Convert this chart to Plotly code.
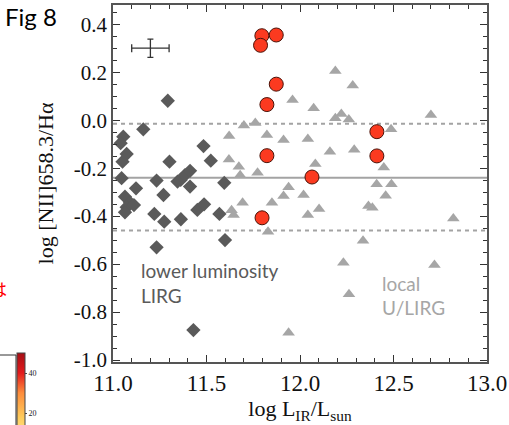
import plotly.graph_objects as go

# ---------------- data ----------------
# lower luminosity LIRGs (dark diamonds)
diamond_x = [11.293, 11.162, 11.055, 11.041, 11.073, 11.051, 11.302, 11.046, 11.233, 11.123,
             11.270, 11.064, 11.091, 11.073, 11.112, 11.064, 11.221, 11.274, 11.233,
             11.345, 11.362, 11.385, 11.412, 11.412, 11.363, 11.451, 11.487, 11.484,
             11.523, 11.595, 11.569, 11.599, 11.430]
diamond_y = [0.081, -0.038, -0.069, -0.096, -0.141, -0.173, -0.173, -0.242, -0.252, -0.284,
             -0.312, -0.319, -0.344, -0.363, -0.354, -0.384, -0.391, -0.423, -0.530,
             -0.256, -0.249, -0.229, -0.211, -0.277, -0.413, -0.374, -0.351, -0.108,
             -0.169, -0.261, -0.391, -0.500, -0.875]

# local U/LIRGs (light triangles)
triangle_x = [12.189, 12.282, 11.960, 12.073, 12.189, 12.221, 12.261, 12.700, 11.700, 11.761,
              12.487, 11.621, 11.823, 11.912, 12.042, 12.160, 12.290, 11.620, 12.082, 11.673,
              11.680, 11.773, 11.939, 11.912, 12.019, 11.693, 11.850, 11.634, 11.645, 12.102,
              12.042, 11.829, 12.337, 12.232, 12.719, 12.820, 12.448, 12.410, 12.489, 12.458,
              12.366, 12.387, 12.262, 11.939]
triangle_y = [0.205, 0.144, 0.084, 0.050, 0.008, 0.026, 0.003, 0.022, -0.022, -0.012,
              -0.038, -0.066, -0.062, -0.083, -0.078, -0.132, -0.123, -0.164, -0.183, -0.194,
              -0.230, -0.219, -0.280, -0.316, -0.312, -0.344, -0.344, -0.376, -0.395, -0.370,
              -0.395, -0.465, -0.503, -0.594, -0.604, -0.410, -0.197, -0.267, -0.267, -0.315,
              -0.358, -0.365, -0.726, -0.886]

# this work (red circles)
circle_x = [11.796, 11.873, 11.789, 11.873, 11.823, 12.411, 11.823, 12.411, 12.064, 11.797]
circle_y = [0.352, 0.355, 0.312, 0.150, 0.065, -0.048, -0.148, -0.149, -0.237, -0.407]

# typical error bar
err_x = [11.20]
err_y = [0.30]
err_dx = [0.10]
err_dy = [0.038]

# reference levels
mean_level = -0.24
scatter_levels = [-0.015, -0.46]

# axis ticks
x_tickvals = [11.0, 11.5, 12.0, 12.5, 13.0]
x_ticktext = ["11.0", "11.5", "12.0", "12.5", "13.0"]
y_tickvals = [-1.0, -0.8, -0.6, -0.4, -0.2, 0.0, 0.2, 0.4]
y_ticktext = ["-1.0", "-0.8", "-0.6", "-0.4", "-0.2", "0.0", "0.2", "0.4"]

# stray colour-bar fragment from the slide
cbar_values = [0, 50]
cbar_tickvals = [20, 40]

# ---------------- figure ----------------
SERIF = "Liberation Serif"
SANS = "Lato"

fig = go.Figure()

fig.add_trace(go.Scatter(
    x=triangle_x, y=triangle_y, mode="markers",
    marker=dict(symbol="triangle-up", size=11, color="#a6a6a6", line=dict(width=0)),
    showlegend=False, hoverinfo="skip"))

fig.add_trace(go.Scatter(
    x=diamond_x, y=diamond_y, mode="markers",
    marker=dict(symbol="diamond", size=11, color="#5a5a5a", line=dict(width=0)),
    showlegend=False, hoverinfo="skip"))

fig.add_trace(go.Scatter(
    x=circle_x, y=circle_y, mode="markers",
    marker=dict(symbol="circle", size=14, color="#fb3a20", line=dict(width=1, color="#4a1208")),
    showlegend=False, hoverinfo="skip"))

fig.add_trace(go.Scatter(
    x=err_x, y=err_y, mode="markers",
    marker=dict(size=1, color="rgba(0,0,0,0)"),
    error_x=dict(type="data", array=err_dx, color="#333333", thickness=1.3, width=4),
    error_y=dict(type="data", array=err_dy, color="#333333", thickness=1.3, width=3),
    showlegend=False, hoverinfo="skip"))

# dummy trace that only carries the stray colour bar
fig.add_trace(go.Scatter(
    x=[None], y=[None], mode="markers",
    marker=dict(color=cbar_values, cmin=min(cbar_values), cmax=max(cbar_values),
                colorscale=[[0, "#ffffb2"], [0.35, "#fecc5c"], [0.6, "#fd8d3c"],
                            [0.8, "#e31a1c"], [1, "#a50f15"]],
                showscale=True,
                colorbar=dict(x=-0.2567, xanchor="left", xpad=0, ypad=0,
                              y=0.0252, yanchor="top", lenmode="pixels", len=100,
                              thickness=8, outlinewidth=1, outlinecolor="#444",
                              tickvals=cbar_tickvals, ticks="outside", ticklen=2,
                              tickfont=dict(family=SERIF, size=8, color="#222"))),
    showlegend=False, hoverinfo="skip"))

# reference lines
fig.add_hline(y=mean_level, line=dict(color="#a3a3a3", width=2), layer="below")
for lv in scatter_levels:
    fig.add_hline(y=lv, line=dict(color="#a3a3a3", width=2, dash="4px,4px"), layer="below")

axis_common = dict(showline=True, linecolor="#555555", linewidth=1.5, mirror="allticks",
                   ticks="inside", ticklen=7, tickwidth=1.2, tickcolor="#333333",
                   showgrid=False, zeroline=False)

fig.update_xaxes(range=[11.0, 13.0], tickmode="array", tickvals=x_tickvals, ticktext=x_ticktext,
                 tickfont=dict(family=SERIF, size=23, color="#111"),
                 minor=dict(tickmode="linear", tick0=11.0, dtick=0.1, ticks="inside",
                            ticklen=4, tickcolor="#333333"),
                 title=dict(text="log L<sub>IR</sub>/L<sub>sun</sub>",
                            font=dict(family=SERIF, size=22, color="#111"), standoff=4),
                 **axis_common)
fig.update_yaxes(range=[-1.008, 0.48], tickmode="array", tickvals=y_tickvals, ticktext=y_ticktext,
                 tickfont=dict(family=SERIF, size=21, color="#111"),
                 minor=dict(tickmode="linear", tick0=0.0, dtick=0.05, ticks="inside",
                            ticklen=4, tickcolor="#333333"),
                 title=dict(text="log [NII]658.3/Hα",
                            font=dict(family=SERIF, size=22, color="#111"), standoff=14),
                 **axis_common)

annotations = [
    dict(text="Fig 8", xref="paper", yref="paper", x=-0.294, y=1.014, xanchor="left", yanchor="top",
         showarrow=False, font=dict(family=SANS, size=24, color="#000")),
    dict(text="lower luminosity", x=11.139, y=-0.625, xanchor="left", yanchor="middle",
         showarrow=False, font=dict(family=SANS, size=19, color="#5a5a5a")),
    dict(text="LIRG", x=11.139, y=-0.732, xanchor="left", yanchor="middle",
         showarrow=False, font=dict(family=SANS, size=19, color="#5a5a5a")),
    dict(text="local", x=12.43, y=-0.680, xanchor="left", yanchor="middle",
         showarrow=False, font=dict(family=SANS, size=19, color="#a6a6a6")),
    dict(text="U/LIRG", x=12.43, y=-0.780, xanchor="left", yanchor="middle",
         showarrow=False, font=dict(family=SANS, size=19, color="#a6a6a6")),
    dict(text="は", xref="paper", yref="paper", x=-0.278, y=0.2045, xanchor="right", yanchor="middle",
         showarrow=False, font=dict(family="Noto Sans CJK JP", size=17, color="#ff0000")),
]
fig.update_layout(annotations=annotations)

# frame of a neighbouring panel (slide artefact)
fig.add_shape(type="rect", xref="paper", yref="paper", x0=-0.33, x1=-0.2594, y0=-0.25, y1=0.0196,
              line=dict(color="#333", width=1), fillcolor="rgba(0,0,0,0)")

fig.update_layout(
    width=509, height=425,
    margin=dict(l=113, r=22, t=5, b=63, autoexpand=False),
    paper_bgcolor="white", plot_bgcolor="white",
    showlegend=False,
)

fig.write_html("out.html", config={"displayModeBar": False})
